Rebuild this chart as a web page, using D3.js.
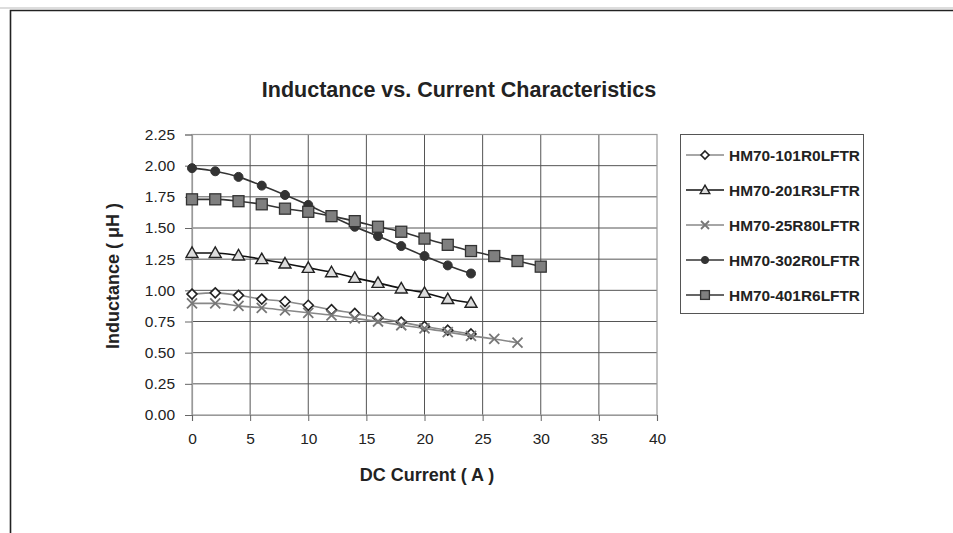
<!DOCTYPE html>
<html>
<head>
<meta charset="utf-8">
<script src="https://cdn.jsdelivr.net/npm/d3@7"></script>
<style>
  body { margin: 0; background: #fff; }
  svg { display: block; font-family: "Liberation Sans", Arial, sans-serif; }
</style>
</head>
<body>
<div id="chart"></div>
<script>
// data
var currentA = [0, 2, 4, 6, 8, 10, 12, 14, 16, 18, 20, 22, 24, 26, 28, 30];
var hm101 = [0.97, 0.98, 0.96, 0.93, 0.91, 0.88, 0.845, 0.815, 0.78, 0.745, 0.71, 0.68, 0.65];
var hm201 = [1.30, 1.30, 1.28, 1.25, 1.215, 1.18, 1.145, 1.10, 1.06, 1.015, 0.98, 0.93, 0.90];
var hm25 = [0.895, 0.895, 0.875, 0.86, 0.84, 0.82, 0.80, 0.775, 0.75, 0.72, 0.695, 0.665, 0.635, 0.61, 0.58];
var hm302 = [1.98, 1.955, 1.91, 1.84, 1.765, 1.685, 1.595, 1.51, 1.435, 1.355, 1.275, 1.20, 1.135];
var hm401 = [1.73, 1.73, 1.715, 1.69, 1.655, 1.63, 1.595, 1.555, 1.51, 1.47, 1.415, 1.365, 1.315, 1.275, 1.235, 1.19];
var seriesNames = ["HM70-101R0LFTR", "HM70-201R3LFTR", "HM70-25R80LFTR", "HM70-302R0LFTR", "HM70-401R6LFTR"];
var xTicks = [0, 5, 10, 15, 20, 25, 30, 35, 40];
var yTicks = [0, 0.25, 0.5, 0.75, 1.0, 1.25, 1.5, 1.75, 2.0, 2.25];

var W = 953, H = 533;
var svg = d3.select("#chart").append("svg").attr("width", W).attr("height", H);

// outer frame (top and left edges only visible)
svg.append("line").attr("x1", 0).attr("x2", W).attr("y1", 8).attr("y2", 8)
  .attr("stroke", "#bbb").attr("stroke-width", 1);
svg.append("path").attr("d", "M10.5," + H + "V10.5H" + W)
  .attr("fill", "none").attr("stroke", "#222").attr("stroke-width", 1.6);

var plotL = 192, plotR = 657, plotT = 134.5, plotB = 415;
var x = d3.scaleLinear().domain([0, 40]).range([plotL, plotR]);
var y = d3.scaleLinear().domain([0, 2.25]).range([plotB, plotT]);

// gridlines
var g = svg.append("g");
g.selectAll(".vg").data(xTicks.slice(1, -1)).enter().append("line")
  .attr("x1", function (d) { return x(d); }).attr("x2", function (d) { return x(d); })
  .attr("y1", plotT).attr("y2", plotB)
  .attr("stroke", "#555").attr("stroke-width", 1);
g.selectAll(".hg").data(yTicks.slice(1, -1)).enter().append("line")
  .attr("x1", plotL).attr("x2", plotR)
  .attr("y1", function (d) { return y(d); }).attr("y2", function (d) { return y(d); })
  .attr("stroke", "#555").attr("stroke-width", 1);
g.append("rect").attr("x", plotL).attr("y", plotT).attr("width", plotR - plotL).attr("height", plotB - plotT)
  .attr("fill", "none").attr("stroke", "#999").attr("stroke-width", 1.2);

// axes
var yAxis = svg.append("g").attr("transform", "translate(" + plotL + ",0)")
  .call(d3.axisLeft(y).tickValues(yTicks).tickFormat(d3.format(".2f")).tickSize(7).tickPadding(10));
var xAxis = svg.append("g").attr("transform", "translate(0," + plotB + ")")
  .call(d3.axisBottom(x).tickValues(xTicks).tickSize(6).tickPadding(12));
[yAxis, xAxis].forEach(function (a) {
  a.select(".domain").attr("stroke", "#999").attr("stroke-width", 1.2);
  a.selectAll(".tick line").attr("stroke", "#666");
  a.selectAll("text").attr("font-size", 15.5).attr("fill", "#222")
    .attr("font-family", "Liberation Sans, Arial, sans-serif");
});

// titles
svg.append("text").attr("x", 459).attr("y", 97).attr("text-anchor", "middle")
  .attr("font-size", 21.5).attr("font-weight", "bold").attr("fill", "#222")
  .text("Inductance vs. Current Characteristics");
svg.append("text").attr("x", 427).attr("y", 481).attr("text-anchor", "middle")
  .attr("font-size", 18).attr("font-weight", "bold").attr("fill", "#222")
  .text("DC Current ( A )");
svg.append("text").attr("transform", "translate(119,276) rotate(-90)").attr("text-anchor", "middle")
  .attr("font-size", 18).attr("font-weight", "bold").attr("fill", "#222")
  .text("Inductance ( μH )");

// series styles
var series = [
  { name: seriesNames[0], vals: hm101, line: "#8a8a8a", shape: "diamond", fill: "#fff", stroke: "#222" },
  { name: seriesNames[1], vals: hm201, line: "#111", shape: "triangle", fill: "#ddd", stroke: "#222" },
  { name: seriesNames[2], vals: hm25, line: "#888", shape: "cross", fill: "none", stroke: "#777" },
  { name: seriesNames[3], vals: hm302, line: "#333", shape: "circle", fill: "#333", stroke: "#333" },
  { name: seriesNames[4], vals: hm401, line: "#333", shape: "square", fill: "#7f7f7f", stroke: "#333" }
];

function drawMarker(sel, s, cx, cy, k) {
  k = k || 1;
  if (s.shape === "circle") {
    sel.append("circle").attr("cx", cx).attr("cy", cy).attr("r", 4.5 * k)
      .attr("fill", s.fill).attr("stroke", s.stroke);
  } else if (s.shape === "square") {
    var h = 5.5 * k;
    sel.append("rect").attr("x", cx - h).attr("y", cy - h).attr("width", 2 * h).attr("height", 2 * h)
      .attr("fill", s.fill).attr("stroke", s.stroke).attr("stroke-width", 1.3);
  } else if (s.shape === "diamond") {
    var d = 5 * k;
    sel.append("path").attr("d", "M" + cx + "," + (cy - d) + "L" + (cx + d) + "," + cy + "L" + cx + "," + (cy + d) + "L" + (cx - d) + "," + cy + "Z")
      .attr("fill", s.fill).attr("stroke", s.stroke).attr("stroke-width", 1.6);
  } else if (s.shape === "triangle") {
    var t = 6 * k;
    sel.append("path").attr("d", "M" + cx + "," + (cy - t) + "L" + (cx + t) + "," + (cy + t * 0.75) + "L" + (cx - t) + "," + (cy + t * 0.75) + "Z")
      .attr("fill", s.fill).attr("stroke", s.stroke).attr("stroke-width", 1.4);
  } else if (s.shape === "cross") {
    var c = 5 * k;
    sel.append("path").attr("d", "M" + (cx - c) + "," + (cy - c) + "L" + (cx + c) + "," + (cy + c) + "M" + (cx + c) + "," + (cy - c) + "L" + (cx - c) + "," + (cy + c))
      .attr("fill", "none").attr("stroke", s.stroke).attr("stroke-width", 1.8);
  }
}

var line = d3.line()
  .x(function (d, i) { return x(currentA[i]); })
  .y(function (d) { return y(d); })
  .curve(d3.curveMonotoneX);

series.forEach(function (s) {
  var sg = svg.append("g");
  sg.append("path").datum(s.vals).attr("d", line)
    .attr("fill", "none").attr("stroke", s.line).attr("stroke-width", 1.6);
  s.vals.forEach(function (v, i) { drawMarker(sg, s, x(currentA[i]), y(v)); });
});

// legend
var lg = svg.append("g");
lg.append("rect").attr("x", 680.5).attr("y", 134.5).attr("width", 183).attr("height", 179)
  .attr("fill", "#fff").attr("stroke", "#555").attr("stroke-width", 1);
series.forEach(function (s, i) {
  var ly = 155 + i * 35;
  lg.append("line").attr("x1", 686).attr("x2", 724).attr("y1", ly).attr("y2", ly)
    .attr("stroke", s.line).attr("stroke-width", 1.6);
  drawMarker(lg, s, 705, ly, 0.8);
  lg.append("text").attr("x", 729).attr("y", ly + 5.5).attr("font-size", 15)
    .attr("font-weight", "bold").attr("fill", "#222").attr("textLength", 131)
    .attr("lengthAdjust", "spacingAndGlyphs").text(s.name);
});
</script>
</body>
</html>
